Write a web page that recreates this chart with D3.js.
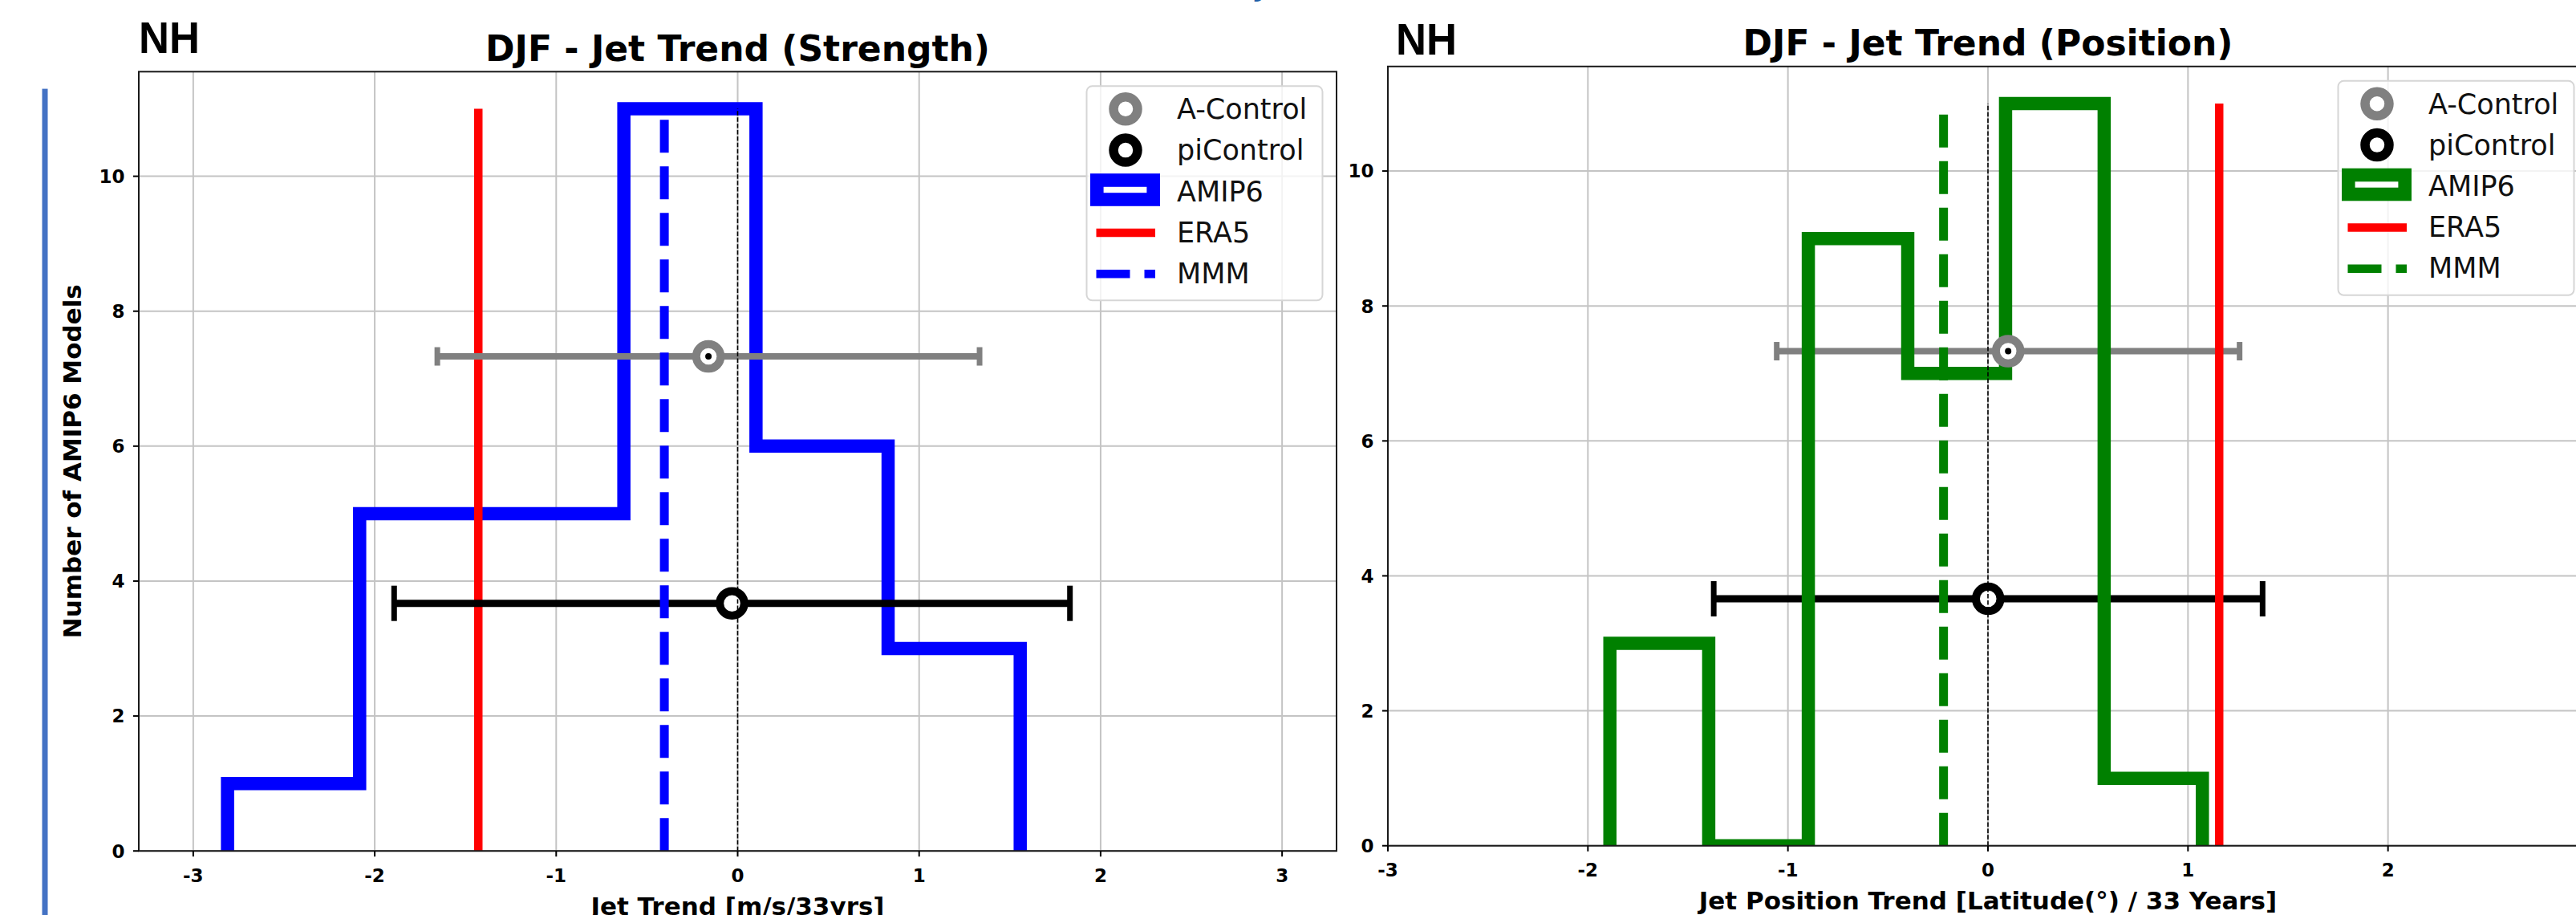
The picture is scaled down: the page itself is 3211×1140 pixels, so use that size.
<!DOCTYPE html>
<html><head><meta charset="utf-8">
<script src="https://cdn.jsdelivr.net/npm/d3@7"></script>
<style>html,body{margin:0;padding:0;background:#fff;overflow:hidden}</style>
</head><body>
<svg id="chart" width="3211" height="1140" xmlns="http://www.w3.org/2000/svg"></svg>
<script>
// ---------------- data ----------------
const regionLabel = "NH";
const panelTitles = ["DJF - Jet Trend (Strength)", "DJF - Jet Trend (Position)"];
const xAxisTitles = ["Jet Trend [m/s/33yrs]", "Jet Position Trend [Latitude(°) / 33 Years]"];
const yAxisTitle = "Number of AMIP6 Models";
const legendLabels = ["A-Control", "piControl", "AMIP6", "ERA5", "MMM"];
const xTicks = [-3, -2, -1, 0, 1, 2, 3];
const yTicks = [0, 2, 4, 6, 8, 10];

// Strength panel (AMIP6 histogram, blue)
const strengthBinEdges = [-2.811, -2.083, -1.355, -0.627, 0.101, 0.829, 1.557];
const strengthCounts   = [1, 5, 5, 11, 6, 3];
const strengthERA5 = -1.429;
const strengthMMM  = -0.404;
const strengthAControl  = [-0.161, 7.33, 1.494];   // centre, height, half-range
const strengthPiControl = [-0.031, 3.67, 1.862];

// Position panel (AMIP6 histogram, green)
const positionBinEdges = [-1.890, -1.396, -0.898, -0.401, 0.088, 0.581, 1.072];
const positionCounts   = [3, 0, 9, 7, 11, 1];
const positionERA5 = 1.156;
const positionMMM  = -0.222;
const positionAControl  = [0.101, 7.33, 1.157];
const positionPiControl = [0.001, 3.66, 1.372];

const verticalLineTop = 11;

// ---------------- layout ----------------
const W = 3211, H = 1140;
const svg = d3.select("#chart");
const FONT = "'DejaVu Sans', sans-serif";

svg.append("rect").attr("width", W).attr("height", H).attr("fill", "#fff");
// slide decoration: blue side bar and cut-off title glyph
svg.append("rect").attr("x", 52.5).attr("y", 110.6).attr("width", 7).attr("height", 1040).attr("fill", "#4472C4");
svg.append("text").attr("x", 1560).attr("y", -8).attr("font-family", FONT).attr("font-size", 46)
  .attr("fill", "#1f5fa8").text("y");

const panels = [
  {
    key: "strength", color: "#0000ff",
    xDomain: [-3.3, 3.3], xRange: [173, 1666],
    yRange: [1060.2, 89.3],
    edges: strengthBinEdges, counts: strengthCounts,
    era5: strengthERA5, mmm: strengthMMM,
    aCtl: strengthAControl, piCtl: strengthPiControl,
    title: panelTitles[0], titleY: 75.5,
    xTitle: xAxisTitles[0], xTitleY: 1139.5,
    nh: [173, 66], yTitle: true,
    order: ["hist", "era5", "err", "mmm", "markers", "zero"]
  },
  {
    key: "position", color: "#008000",
    xDomain: [-3, 3], xRange: [1730, 3226],
    yRange: [1053.7, 82.8],
    edges: positionBinEdges, counts: positionCounts,
    era5: positionERA5, mmm: positionMMM,
    aCtl: positionAControl, piCtl: positionPiControl,
    title: panelTitles[1], titleY: 68.5,
    xTitle: xAxisTitles[1], xTitleY: 1132.5,
    nh: [1740, 68], yTitle: false,
    order: ["err", "hist", "era5", "mmm", "markers", "zero"]
  }
];

panels.forEach((p, pi) => {
  const x = d3.scaleLinear().domain(p.xDomain).range(p.xRange);
  const y = d3.scaleLinear().domain([0, 11.55]).range(p.yRange);
  const [x0, x1] = p.xRange, [yb, yt] = p.yRange;
  const g = svg.append("g");

  const clipId = "clip" + pi;
  svg.append("clipPath").attr("id", clipId).append("rect")
    .attr("x", x0).attr("y", yt).attr("width", x1 - x0).attr("height", yb - yt);

  // grid
  const grid = g.append("g");
  grid.selectAll("line.gx").data(xTicks).join("line")
    .attr("x1", d => x(d)).attr("x2", d => x(d)).attr("y1", yt).attr("y2", yb)
    .attr("stroke", "#c4c4c4").attr("stroke-width", 2);
  grid.selectAll("line.gy").data(yTicks).join("line")
    .attr("x1", x0).attr("x2", x1).attr("y1", d => y(d)).attr("y2", d => y(d))
    .attr("stroke", "#c4c4c4").attr("stroke-width", 2);

  const plot = g.append("g").attr("clip-path", `url(#${clipId})`);
  const layers = {};
  p.order.forEach(k => layers[k] = plot.append("g"));

  // histogram step
  const pts = [[p.edges[0], 0]];
  p.counts.forEach((c, i) => { pts.push([p.edges[i], c]); pts.push([p.edges[i + 1], c]); });
  pts.push([p.edges[p.edges.length - 1], 0]);
  layers.hist.append("path")
    .attr("d", d3.line().x(d => x(d[0])).y(d => y(d[1]))(pts))
    .attr("fill", "none").attr("stroke", p.color).attr("stroke-width", 16.5)
    .attr("stroke-linejoin", "miter");

  // ERA5
  layers.era5.append("line")
    .attr("x1", x(p.era5)).attr("x2", x(p.era5)).attr("y1", y(0)).attr("y2", y(verticalLineTop))
    .attr("stroke", "#ff0000").attr("stroke-width", 10.5);
  // MMM
  layers.mmm.append("line")
    .attr("x1", x(p.mmm)).attr("x2", x(p.mmm)).attr("y1", y(0)).attr("y2", y(verticalLineTop))
    .attr("stroke", p.color).attr("stroke-width", 11).attr("stroke-dasharray", "41,17");
  // zero line
  layers.zero.append("line")
    .attr("x1", x(0)).attr("x2", x(0)).attr("y1", y(0)).attr("y2", y(verticalLineTop))
    .attr("stroke", "#000").attr("stroke-width", 1.6).attr("stroke-dasharray", "5.5,2.4");

  // error bars
  const errs = [
    { v: p.aCtl, color: "#808080", w: 8, cap: 11.5 },
    { v: p.piCtl, color: "#000000", w: 9, cap: 22 }
  ];
  errs.forEach(e => {
    const [c, h, r] = e.v;
    layers.err.append("line")
      .attr("x1", x(c - r)).attr("x2", x(c + r)).attr("y1", y(h)).attr("y2", y(h))
      .attr("stroke", e.color).attr("stroke-width", e.w);
    [c - r, c + r].forEach(cx => {
      layers.err.append("line")
        .attr("x1", x(cx)).attr("x2", x(cx)).attr("y1", y(h) - e.cap).attr("y2", y(h) + e.cap)
        .attr("stroke", e.color).attr("stroke-width", 7);
    });
    layers.markers.append("circle")
      .attr("cx", x(c)).attr("cy", y(h)).attr("r", 15.3)
      .attr("fill", "#fff").attr("stroke", e.color).attr("stroke-width", 10);
  });
  layers.markers.append("circle")
    .attr("cx", x(p.aCtl[0])).attr("cy", y(p.aCtl[1])).attr("r", 4).attr("fill", "#000");

  // spines
  g.append("rect").attr("x", x0).attr("y", yt).attr("width", x1 - x0).attr("height", yb - yt)
    .attr("fill", "none").attr("stroke", "#1a1a1a").attr("stroke-width", 2);

  // axes ticks & labels (only ticks that fall inside the visible page)
  const visX = xTicks.filter(d => x(d) + 12 < W);
  const ax = g.append("g").attr("font-family", FONT).attr("font-weight", "bold").attr("font-size", 23);
  ax.selectAll("line.tx").data(visX).join("line")
    .attr("x1", d => x(d)).attr("x2", d => x(d)).attr("y1", yb).attr("y2", yb + 7)
    .attr("stroke", "#000").attr("stroke-width", 2);
  ax.selectAll("text.tx").data(visX).join("text")
    .attr("x", d => x(d)).attr("y", yb + 38.5).attr("text-anchor", "middle")
    .text(d => d < 0 ? "-" + Math.abs(d) : d);
  ax.selectAll("line.ty").data(yTicks).join("line")
    .attr("x1", x0 - 7).attr("x2", x0).attr("y1", d => y(d)).attr("y2", d => y(d))
    .attr("stroke", "#000").attr("stroke-width", 2);
  ax.selectAll("text.ty").data(yTicks).join("text")
    .attr("x", x0 - 17.5).attr("y", d => y(d) + 8.3).attr("text-anchor", "end")
    .text(d => d);

  // titles
  g.append("text").attr("x", x(0)).attr("y", p.titleY)
    .attr("text-anchor", "middle").attr("font-family", FONT).attr("font-weight", "bold")
    .attr("font-size", 44).text(p.title);
  g.append("text").attr("x", x(0)).attr("y", p.xTitleY)
    .attr("text-anchor", "middle").attr("font-family", FONT).attr("font-weight", "bold")
    .attr("font-size", 31).text(p.xTitle);
  if (p.yTitle) {
    g.append("text").attr("transform", `translate(101,${(yb + yt) / 2}) rotate(-90)`)
      .attr("text-anchor", "middle").attr("font-family", FONT).attr("font-weight", "bold")
      .attr("font-size", 31).text(yAxisTitle);
  }
  g.append("text").attr("x", p.nh[0]).attr("y", p.nh[1])
    .attr("font-family", "'Liberation Sans', Arial, sans-serif").attr("font-weight", "bold")
    .attr("font-size", 56).attr("textLength", 76).attr("lengthAdjust", "spacingAndGlyphs")
    .text(regionLabel);

  // legend
  const bw = 294, bh = 267;
  const bx = x1 - 17.5 - bw, by = yt + 18;
  const lg = g.append("g");
  lg.append("rect").attr("x", bx).attr("y", by).attr("width", bw).attr("height", bh)
    .attr("rx", 7).attr("fill", "#fff").attr("fill-opacity", 0.8)
    .attr("stroke", "#d6d6d6").attr("stroke-width", 2);
  const rowY = [28.5, 79.8, 129.2, 182.8, 234].map(v => by + v);
  const mx = bx + 48.5;
  lg.append("circle").attr("cx", mx).attr("cy", rowY[0]).attr("r", 15)
    .attr("fill", "#fff").attr("stroke", "#808080").attr("stroke-width", 11.5);
  lg.append("circle").attr("cx", mx).attr("cy", rowY[1]).attr("r", 15)
    .attr("fill", "#fff").attr("stroke", "#000").attr("stroke-width", 11.5);
  lg.append("rect").attr("x", bx + 12.8).attr("y", rowY[2] - 12).attr("width", 70.4).attr("height", 24)
    .attr("fill", "#fff").attr("stroke", p.color).attr("stroke-width", 16.6);
  lg.append("line").attr("x1", bx + 12).attr("x2", bx + 85.5).attr("y1", rowY[3]).attr("y2", rowY[3])
    .attr("stroke", "#ff0000").attr("stroke-width", 10.5);
  lg.append("line").attr("x1", bx + 12).attr("x2", bx + 85.5).attr("y1", rowY[4]).attr("y2", rowY[4])
    .attr("stroke", p.color).attr("stroke-width", 10.5).attr("stroke-dasharray", "42,18");
  lg.selectAll("text").data(legendLabels).join("text")
    .attr("x", bx + 112.5).attr("y", (d, i) => by + 41 + i * 51.1)
    .attr("font-family", FONT).attr("font-size", 35).attr("fill", "#111").text(d => d);
});
</script>
</body></html>
